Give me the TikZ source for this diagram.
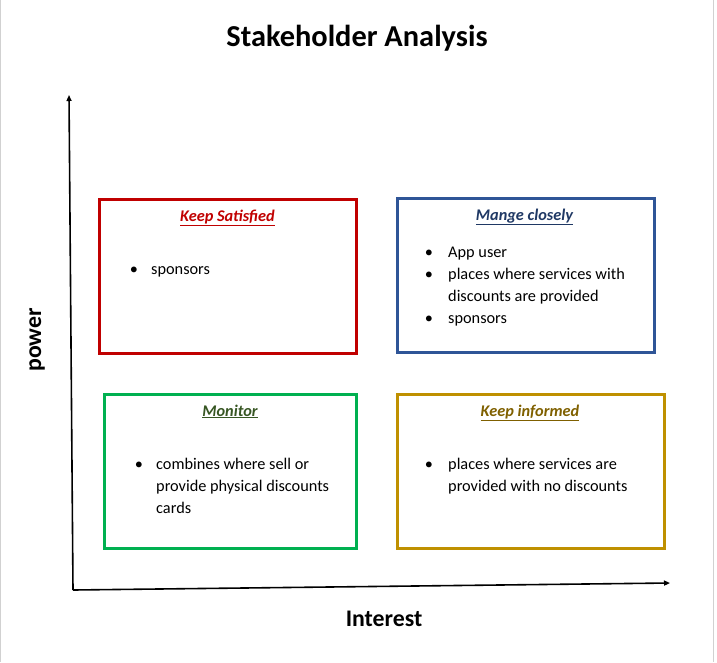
\documentclass[tikz,border=0pt]{standalone}
\usepackage{fontspec}
\setmainfont{Carlito}
\usetikzlibrary{arrows.meta}

\definecolor{satred}{HTML}{C00000}
\definecolor{manblue}{HTML}{2F5597}
\definecolor{mantitle}{HTML}{1F3864}
\definecolor{mongreen}{HTML}{00B050}
\definecolor{montitle}{HTML}{375623}
\definecolor{infgold}{HTML}{BF9000}
\definecolor{inftitle}{HTML}{7F6000}

\tikzset{
  quad/.style={draw=#1, line width=3pt, inner sep=0pt, outer sep=0pt, minimum height=154pt},
  qtitle/.style={text=#1, anchor=base, font=\fontsize{16.3}{20}\selectfont\bfseries\itshape},
  qitem/.style={anchor=base west, align=left, inner sep=0pt, font=\fontsize{16.3}{22}\selectfont},
  qbul/.style={anchor=base, inner sep=0pt, font=\fontsize{16.3}{22}\selectfont},
  axlabel/.style={font=\fontsize{23.8}{26}\selectfont\bfseries},
  axis/.style={line width=1.6pt, -{Triangle[length=6pt, width=5pt]}}
}

\begin{document}
\begin{tikzpicture} [x=1pt, y=-1pt]
\useasboundingbox (0,0) rectangle (717,662);
\draw[black!18] (0.5,0) -- (0.5,662);
\draw[black!18] (713.5,0) -- (713.5,662);

\node[font=\fontsize{30.4}{34}\selectfont\bfseries] (ttl) at (357,38) {Stakeholder Analysis};

% axes
\coordinate (o) at (73,590);
\coordinate (ytop) at (69,95);
\coordinate (xend) at (670,583);
\draw[axis] (o) -- (ytop);
\draw[axis] (o) -- (xend);
\node[axlabel, rotate=90] (pw) at (37,340) {power};
\node[axlabel] (it) at (384,619) {Interest};

% quadrants
\node[quad=satred, minimum width=257pt] (sat) at (227.5,276) {};
\node[quad=manblue, minimum width=257pt] (man) at (525.5,275) {};
\node[quad=mongreen, minimum width=252pt] (mon) at (230,471) {};
\node[quad=infgold, minimum width=267pt] (inf) at (530.5,471) {};

\node[qtitle=satred] (satt) at (227.5,221) {\underline{Keep Satisfied}};
\node[qtitle=mantitle] (mant) at (524.5,220) {\underline{Mange closely}};
\node[qtitle=montitle] (mont) at (230,416) {\underline{Monitor}};
\node[qtitle=inftitle] (inft) at (530,416) {\underline{Keep informed}};

% items (base = last line)
\node[qbul] at (134,274) {\textbullet};
\node[qitem] (sat1) at (151,274) {sponsors};

\foreach \y in {257,279,323} \node[qbul] at (429,\y) {\textbullet};
\node[qitem] (man1) at (448,257) {App user};
\node[qitem] (man2) at (448,301) {places where services with\\discounts are provided};
\node[qitem] (man3) at (448,323) {sponsors};

\node[qbul] at (139,469) {\textbullet};
\node[qitem] (mon1) at (156,513) {combines where sell or\\provide physical discounts\\cards};

\node[qbul] at (429,469) {\textbullet};
\node[qitem] (inf1) at (448,491) {places where services are\\provided with no discounts};

\end{tikzpicture}
\end{document}
